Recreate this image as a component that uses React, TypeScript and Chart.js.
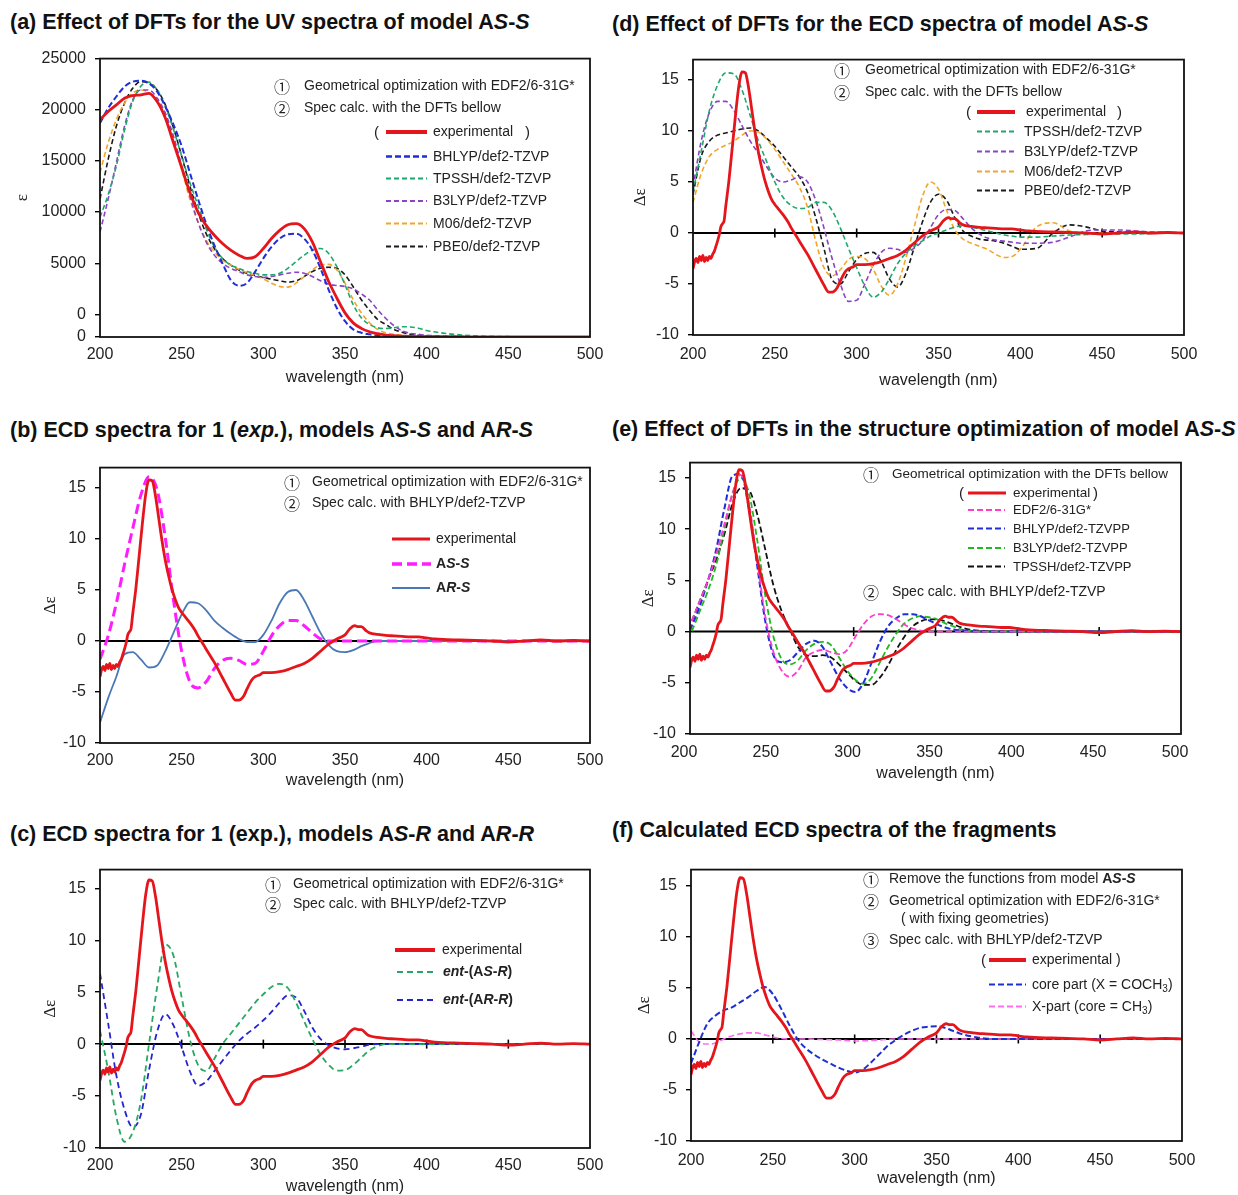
import React, { useEffect, useRef } from "react";
import { Chart, registerables } from "chart.js";
Chart.register(...registerables);

const FONT = "'Liberation Sans', Arial, sans-serif";
const SERIF = "'Liberation Serif', 'DejaVu Serif', serif";
const CJK = "'Noto Sans CJK JP', 'DejaVu Sans', sans-serif";
const TXT = "#222";

// ---------------- DATA ----------------
// (a) UV spectra, wavelength grid (nm)
const UV_WL = [200,205,210,215,220,225,230,235,240,245,250,255,260,265,270,275,280,285,290,295,300,305,310,315,320,325,330,335,340,345,350,355,360,365,370,375,380,385,390,395,400,410,420,430,440,450,475,500];
const UV_EXP = [19030,19835,20480,21130,21380,21450,21610,20800,19190,16770,14350,11930,9990,8700,7730,6920,6280,5790,5470,5630,6440,7410,8210,8760,8860,8380,7080,5150,3210,1600,145,-830,-1370,-1700,-1890,-2020,-2080,-2120,-2150,-2170,-2180,-2190,-2190,-2195,-2195,-2200,-2200,-2200];
const UV_BHLYP = [18700,20160,21290,22260,22740,22840,22580,21770,20320,18540,16450,13860,11280,8860,6760,4990,3370,2800,3050,4180,5470,6600,7410,7830,7890,7410,6280,4500,2400,620,-670,-1470,-1790,-1950,-2080,-2130,-2160,-2175,-2185,-2190,-2195,-2200,-2200,-2200,-2200,-2200,-2200,-2200];
const UV_TPSSH = [9500,11700,14500,18000,20800,22300,22700,21930,20320,18060,15480,12900,10640,8380,6600,5470,4820,4500,4180,4020,3860,3860,4020,4500,5150,5790,6280,6440,5950,4660,2890,950,-340,-990,-1310,-1380,-1310,-1210,-1230,-1350,-1570,-1830,-2000,-2100,-2150,-2180,-2200,-2200];
const UV_B3LYP = [8050,11280,14830,18380,20960,21930,21930,21120,19670,17410,14510,11600,9020,7080,5790,4990,4500,4180,3860,3700,3600,3700,3860,4020,4120,4020,3700,3280,2950,2820,2730,2500,2000,1400,450,-400,-1100,-1600,-1850,-1950,-2050,-2120,-2170,-2190,-2200,-2200,-2200,-2200];
const UV_M06 = [13860,16770,19030,20640,21610,21930,21680,20800,19350,17090,14190,11280,9020,7250,6120,5310,4820,4400,4080,3790,3470,3050,2730,2660,3050,3700,4340,4820,4890,4340,3050,1440,150,-820,-1470,-1800,-1950,-2050,-2120,-2160,-2180,-2200,-2200,-2200,-2200,-2200,-2200,-2200];
const UV_PBE0 = [11280,15150,18380,20640,22100,22740,22580,21930,20480,18220,15480,12570,9990,7890,6440,5470,4820,4340,4020,3790,3600,3440,3280,3150,3280,3700,4180,4500,4600,4500,3860,2700,1430,400,-500,-990,-1470,-1750,-1950,-2050,-2120,-2190,-2200,-2200,-2200,-2200,-2200,-2200];
const UV_Y_TICKS = [-2212, 0, 5000, 10000, 15000, 20000, 25000];

// experimental ECD spectrum (same measurement in panels b-f)
const EXP_WL = [200,201,202,203,204,205,206,207,208,209,210,211,212,213,214,215,216,217,218,219,220,222,224,226,228,230,232,234,236,238,240,242,244,246,248,250,252,255,258,260,262,265,270,275,280,283,285,288,290,293,295,298,300,305,310,315,320,325,330,335,340,345,350,353,356,358,360,363,365,370,375,380,385,390,395,400,405,410,420,430,440,450,460,470,480,490,500];
const EXP_ECD = [-3.5,-2.8,-2.5,-2.9,-2.3,-2.7,-2.2,-2.8,-2.4,-2.7,-2.3,-2.5,-2.1,-1.8,-1.3,-0.8,-0.2,0.6,0.9,1.2,2.6,5.2,8.4,11.6,14.4,15.8,15.7,14.2,12.0,9.8,7.9,6.4,5.1,4.1,3.3,2.8,2.4,1.8,1.1,0.5,0.0,-0.8,-2.1,-3.6,-5.1,-5.8,-5.8,-5.4,-4.7,-3.8,-3.5,-3.3,-3.1,-3.1,-3.0,-2.8,-2.5,-2.2,-1.7,-1.0,-0.3,0.2,0.6,1.2,1.5,1.4,1.4,1.0,0.8,0.65,0.55,0.5,0.45,0.4,0.4,0.3,0.2,0.15,0.1,0.05,0.0,-0.1,0.0,0.1,0.0,0.05,0.0];

// calculated ECD grid (nm)
const ECD_WL = [200,205,210,215,220,225,230,235,240,245,250,255,260,265,270,275,280,285,290,295,300,305,310,315,320,325,330,335,340,345,350,355,360,365,370,375,380,385,390,395,400,410,420,430,440,450,460,470,480,490,500];
// (d)
const D_TPSSH = [4.0,8.0,12.0,14.5,15.7,15.6,14.0,11.5,9.0,7.0,5.0,3.5,2.7,2.4,2.5,3.0,3.0,2.2,0.5,-1.5,-3.4,-5.2,-6.3,-5.8,-4.5,-3.0,-2.0,-1.3,-0.8,-0.3,0.0,0.3,0.6,0.7,0.6,0.4,0.2,0.0,-0.2,-0.3,-0.4,-0.4,-0.3,-0.2,-0.15,-0.1,-0.1,-0.1,-0.05,0,0];
const D_B3LYP = [4.5,9.0,11.8,12.9,12.9,12.0,10.5,9.0,7.8,6.5,5.4,5.0,5.2,5.5,5.0,3.2,0.5,-2.5,-5.0,-6.7,-6.6,-5.0,-3.2,-1.9,-1.5,-1.6,-1.9,-1.5,-0.8,0.5,1.8,2.3,2.2,1.4,0.5,-0.1,-0.5,-0.7,-0.8,-0.9,-1.0,-1.0,-0.9,-0.4,0.2,0.3,0.3,0.2,0.1,0.05,0];
const D_M06 = [3.0,5.8,7.5,8.2,8.6,9.0,9.6,10.0,9.9,9.2,8.2,7.0,5.8,4.5,2.5,-0.8,-3.4,-4.2,-3.6,-2.6,-2.3,-2.5,-3.5,-5.2,-6.1,-5.0,-2.5,0.5,3.5,5.0,4.3,2.2,0.3,-0.6,-1.0,-1.3,-1.6,-2.1,-2.4,-2.3,-1.6,0.6,1.0,0.2,0.0,0,0,0,0,0,0];
const D_PBE0 = [3.8,7.5,9.0,9.6,9.8,10.0,10.2,10.3,10.0,9.3,8.5,7.5,6.5,5.5,4.0,1.5,-1.5,-4.6,-5.0,-3.8,-2.6,-2.0,-1.9,-2.8,-4.5,-5.3,-4.0,-1.5,1.0,3.0,3.8,3.2,1.5,0.2,-0.3,-0.6,-0.7,-0.8,-1.0,-1.3,-1.6,-1.5,0.0,0.8,0.6,0.2,0.1,0.05,0,0,0];
// (b)
const B_ASS = [-1.8,0.5,3.7,7.5,11.0,14.3,16.1,14.8,10.1,4.0,-1.0,-4.0,-4.6,-4.0,-2.7,-1.9,-1.7,-1.9,-2.3,-2.2,-1.0,0.5,1.5,2.0,2.0,1.5,0.8,0.2,0.0,0.0,0,0,0,0,0,0,0,0,0,0,0,0,0,0,0,0,0,0,0,0,0];
const B_ARS = [-8.0,-5.6,-3.5,-1.3,-1.1,-1.8,-2.6,-2.4,-1.0,0.8,2.6,3.8,3.7,3.0,2.0,1.3,0.7,0.2,-0.1,-0.1,0.6,2.0,3.7,4.8,5.0,4.0,2.4,0.8,-0.4,-1.0,-1.1,-0.9,-0.5,-0.2,0,0,0,0,0,0,0,0,0,0,0,0,0,0,0,0,0];
// (c)
const C_ASR = [1.3,-2.5,-7.0,-9.4,-8.5,-5.5,0.0,5.5,9.6,8.5,4.5,0.5,-2.0,-2.6,-1.4,0.0,1.0,2.0,3.0,4.0,4.8,5.5,5.8,5.4,4.0,2.2,0.5,-1.0,-2.0,-2.55,-2.5,-2.0,-1.3,-0.6,-0.2,0,0,0,0,0,0,0,0,0,0,0,0,0,0,0,0];
const C_ARR = [6.8,2.0,-3.0,-6.3,-8.0,-6.8,-2.5,1.2,2.9,1.8,-0.3,-2.6,-4.0,-3.6,-2.6,-1.6,-0.6,0.3,1.0,1.6,2.3,3.1,4.0,4.7,4.5,3.2,1.6,0.5,-0.1,-0.4,-0.5,-0.4,-0.25,-0.05,0,0,0,0,0,0,0,0,0,0,0,0,0,0,0,0,0];
// (f)
const F_CORE = [-2.4,-0.3,1.5,2.3,2.8,3.1,3.6,4.1,4.7,5.1,4.4,3.0,1.4,0.0,-0.9,-1.5,-2.0,-2.4,-2.8,-3.1,-3.3,-3.0,-2.3,-1.5,-0.7,-0.1,0.4,0.8,1.1,1.2,1.25,1.1,0.8,0.5,0.3,0.15,0.05,0,0,0,0,0,0,0,0,0,0,0,0,0,0];
const F_XPART = [0.8,-0.3,-0.5,-0.4,0.0,0.3,0.5,0.6,0.6,0.4,0.2,0.05,0,0,0,-0.03,-0.05,-0.08,-0.1,-0.15,-0.2,-0.18,-0.15,-0.1,-0.05,0,0,0,0,0,0,0,0,0,0,0,0,0,0,0,0,0,0,0,0,0,0,0,0,0,0];
// (e) grid (nm)
const E_WL = [196,201,206,211,216,221,226,231,236,241,246,251,256,261,266,271,276,281,286,291,296,301,306,311,316,321,326,331,336,341,346,351,356,361,366,371,376,381,386,391,396,446,496];
const E_EDF2 = [-1.5,1.0,3.0,5.0,7.5,10.5,13.5,15.3,12.5,7.0,1.5,-2.0,-3.8,-4.4,-3.8,-2.5,-2.0,-1.8,-2.0,-2.2,-1.8,-0.5,0.7,1.5,1.7,1.6,1.2,0.7,0.3,0.1,0,0,0,0,0,0,0,0,0,0,0,0,0];
const E_BHLYP = [-1.5,0.5,2.5,5.0,8.0,12.0,15.2,15.4,12.0,6.5,1.0,-2.3,-3.0,-2.8,-2.0,-1.2,-0.9,-1.5,-3.0,-4.5,-5.5,-5.9,-5.0,-3.0,-1.0,0.5,1.3,1.7,1.7,1.5,1.1,0.7,0.4,0.2,0.1,0.05,0,0,0,0,0,0,0];
const E_B3LYP = [-1.5,0.0,2.0,4.0,6.5,10.0,13.5,15.0,13.5,9.0,3.5,-0.5,-2.7,-3.2,-2.8,-1.8,-1.2,-1.0,-1.3,-2.5,-3.8,-4.7,-5.1,-4.5,-3.0,-1.5,-0.2,0.8,1.3,1.5,1.4,1.2,0.8,0.5,0.2,0.1,0,0,0,0,0,0,0];
const E_TPSSH = [-0.5,1.0,3.0,5.0,7.0,9.5,12.5,14.0,13.8,11.5,8.0,4.5,2.0,0.2,-1.5,-2.3,-2.4,-2.3,-2.5,-3.2,-4.0,-4.8,-5.2,-5.2,-4.5,-3.3,-1.8,-0.5,0.5,1.0,1.2,1.2,1.0,0.7,0.4,0.2,0.1,0.05,0,0,0,0,0];

const ECD_Y_TICKS = [-10, -5, 0, 5, 10, 15];
const ZERO_MARKS = [250, 300, 350, 400, 450];

// ---------------- STYLES ----------------
type Sty = { color: string; width: number; dash: number[] };
const S_EXP: Sty = { color: "#e5151c", width: 2.8, dash: [] };
const S_BHLYP: Sty = { color: "#1f2ed6", width: 2, dash: [6, 3] };
const S_TPSSH_G: Sty = { color: "#1fa86c", width: 1.6, dash: [5, 3] };
const S_B3LYP_P: Sty = { color: "#8a44c4", width: 1.6, dash: [5, 3] };
const S_M06: Sty = { color: "#f2a52a", width: 1.6, dash: [5, 3] };
const S_PBE0: Sty = { color: "#1a1a1a", width: 1.6, dash: [5, 3] };
const S_ASS: Sty = { color: "#ff1cff", width: 3, dash: [10, 5] };
const S_ARS: Sty = { color: "#4a78b6", width: 1.8, dash: [] };
const S_ASR: Sty = { color: "#27a862", width: 1.8, dash: [6, 4] };
const S_ARR: Sty = { color: "#2424d0", width: 1.8, dash: [6, 4] };
const S_EDF2: Sty = { color: "#ff3ccc", width: 1.8, dash: [6, 3] };
const S_B3LYP_E: Sty = { color: "#22b822", width: 1.8, dash: [6, 3] };
const S_TPSSH_E: Sty = { color: "#111111", width: 1.8, dash: [6, 3] };
const S_CORE: Sty = { color: "#1e2fd0", width: 2, dash: [6, 3] };
const S_XPART: Sty = { color: "#ff6ef0", width: 1.6, dash: [6, 3] };

type Line = { wl: number[]; y: number[]; s: Sty };
type PanelCfg = {
  l: number; r: number; t: number; b: number;
  yMin: number; yMax: number; yTicks: number[];
  yLabel: (v: number) => string;
  yTitle: string; yTitleSize: number; yw: number;
  xh: number; xpad: number; xOff: number;
  zero: boolean; marks: number[];
  lines: Line[];
};

const PT = 14, PR = 24;

function Panel({ cfg }: { cfg: PanelCfg }) {
  const ref = useRef<HTMLCanvasElement>(null);
  const left = cfg.l - cfg.yw;
  const top = cfg.t - PT;
  const w = cfg.r - cfg.l + cfg.yw + PR;
  const h = cfg.b - cfg.t + PT + cfg.xh;
  useEffect(() => {
    const deco = {
      id: "deco",
      beforeDatasetsDraw(chart: any) {
        if (!cfg.zero) return;
        const { ctx, chartArea: a, scales } = chart;
        const y0 = scales.y.getPixelForValue(0);
        ctx.save();
        ctx.strokeStyle = "#000";
        ctx.lineWidth = 2;
        ctx.beginPath();
        ctx.moveTo(a.left, y0);
        ctx.lineTo(a.right, y0);
        ctx.stroke();
        ctx.lineWidth = 1.6;
        for (const v of cfg.marks) {
          const x = scales.x.getPixelForValue(v);
          ctx.beginPath();
          ctx.moveTo(x, y0 - 4.5);
          ctx.lineTo(x, y0 + 4.5);
          ctx.stroke();
        }
        ctx.restore();
      },
      afterDraw(chart: any) {
        const { ctx, chartArea: a } = chart;
        ctx.save();
        ctx.strokeStyle = "#111";
        ctx.lineWidth = 1.8;
        ctx.strokeRect(a.left, a.top, a.right - a.left, a.bottom - a.top);
        ctx.restore();
      },
    };
    const chart = new Chart(ref.current as HTMLCanvasElement, {
      type: "line",
      data: {
        datasets: cfg.lines.map((ln) => ({
          data: ln.wl.map((x, i) => ({ x, y: ln.y[i] })),
          borderColor: ln.s.color,
          borderWidth: ln.s.width,
          borderDash: ln.s.dash,
          pointRadius: 0,
          fill: false,
          cubicInterpolationMode: "monotone" as const,
        })),
      },
      options: {
        responsive: false,
        maintainAspectRatio: false,
        animation: false,
        parsing: false,
        layout: { padding: { top: PT, right: PR, left: 0, bottom: 0 } },
        plugins: { legend: { display: false }, tooltip: { enabled: false } },
        scales: {
          x: {
            type: "linear",
            min: 200,
            max: 500,
            ticks: {
              stepSize: 50,
              color: "#222",
              font: { family: FONT, size: 16 },
              padding: cfg.xpad,
              labelOffset: cfg.xOff,
              maxRotation: 0,
            },
            grid: { display: true, drawOnChartArea: false, drawTicks: false },
            border: { display: false },
            title: {
              display: true,
              text: "wavelength (nm)",
              color: "#222",
              font: { family: FONT, size: 16 },
              padding: { top: 0, bottom: 0 },
            },
            afterFit: (s: any) => {
              s.height = cfg.xh;
            },
          },
          y: {
            type: "linear",
            min: cfg.yMin,
            max: cfg.yMax,
            afterBuildTicks: (s: any) => {
              s.ticks = cfg.yTicks.map((v) => ({ value: v }));
            },
            ticks: {
              color: "#222",
              font: { family: FONT, size: 16 },
              padding: 9,
              callback: (v: any) => cfg.yLabel(Number(v)),
            },
            grid: { display: true, drawOnChartArea: false, drawTicks: true, tickLength: 5, color: "#000", lineWidth: 1.4 },
            border: { display: false },
            title: {
              display: true,
              text: cfg.yTitle,
              color: "#222",
              font: { family: SERIF, size: cfg.yTitleSize },
              padding: { top: 0, bottom: 0 },
            },
            afterFit: (s: any) => {
              s.width = cfg.yw;
            },
          },
        },
      },
      plugins: [deco],
    } as any);
    return () => chart.destroy();
  }, []);
  return (
    <canvas
      ref={ref}
      width={w}
      height={h}
      style={{ position: "absolute", left, top, width: w, height: h }}
    />
  );
}

const ecdLabel = (v: number) => String(v);
const uvLabel = (v: number) => (v < 0 ? "0" : String(v));

const PANEL_A: PanelCfg = {
  l: 100, r: 590, t: 54, b: 337, yMin: -2212, yMax: 25000, yTicks: UV_Y_TICKS, yLabel: uvLabel,
  yTitle: "ε", yTitleSize: 17, yw: 88, xh: 50, xpad: 8, xOff: 0, zero: false, marks: [],
  lines: [
    { wl: UV_WL, y: UV_EXP, s: S_EXP },
    { wl: UV_WL, y: UV_BHLYP, s: S_BHLYP },
    { wl: UV_WL, y: UV_TPSSH, s: S_TPSSH_G },
    { wl: UV_WL, y: UV_B3LYP, s: S_B3LYP_P },
    { wl: UV_WL, y: UV_M06, s: S_M06 },
    { wl: UV_WL, y: UV_PBE0, s: S_PBE0 },
  ],
};
const PANEL_B: PanelCfg = {
  l: 100, r: 590, t: 463, b: 743, yMin: -10, yMax: 17, yTicks: ECD_Y_TICKS, yLabel: ecdLabel,
  yTitle: "Δε", yTitleSize: 17, yw: 60, xh: 47, xpad: 8, xOff: 0, zero: true, marks: [],
  lines: [
    { wl: EXP_WL, y: EXP_ECD, s: S_EXP },
    { wl: ECD_WL, y: B_ASS, s: S_ASS },
    { wl: ECD_WL, y: B_ARS, s: S_ARS },
  ],
};
const PANEL_C: PanelCfg = {
  l: 100, r: 590, t: 865, b: 1148, yMin: -10, yMax: 16.8, yTicks: ECD_Y_TICKS, yLabel: ecdLabel,
  yTitle: "Δε", yTitleSize: 17, yw: 60, xh: 48, xpad: 8, xOff: 0, zero: true, marks: ZERO_MARKS,
  lines: [
    { wl: EXP_WL, y: EXP_ECD, s: S_EXP },
    { wl: ECD_WL, y: C_ASR, s: S_ASR },
    { wl: ECD_WL, y: C_ARR, s: S_ARR },
  ],
};
const PANEL_D: PanelCfg = {
  l: 693, r: 1184, t: 55, b: 335, yMin: -10, yMax: 17, yTicks: ECD_Y_TICKS, yLabel: ecdLabel,
  yTitle: "Δε", yTitleSize: 17, yw: 63, xh: 55, xpad: 10, xOff: 0, zero: true, marks: ZERO_MARKS,
  lines: [
    { wl: EXP_WL, y: EXP_ECD, s: S_EXP },
    { wl: ECD_WL, y: D_TPSSH, s: S_TPSSH_G },
    { wl: ECD_WL, y: D_B3LYP, s: S_B3LYP_P },
    { wl: ECD_WL, y: D_M06, s: S_M06 },
    { wl: ECD_WL, y: D_PBE0, s: S_PBE0 },
  ],
};
const PANEL_E: PanelCfg = {
  l: 690, r: 1181, t: 458, b: 734, yMin: -10, yMax: 16.5, yTicks: ECD_Y_TICKS, yLabel: ecdLabel,
  yTitle: "Δε", yTitleSize: 17, yw: 52, xh: 49, xpad: 9, xOff: -6, zero: true, marks: [300, 350, 400, 450],
  lines: [
    { wl: EXP_WL, y: EXP_ECD, s: S_EXP },
    { wl: E_WL, y: E_EDF2, s: S_EDF2 },
    { wl: E_WL, y: E_BHLYP, s: S_BHLYP },
    { wl: E_WL, y: E_B3LYP, s: S_B3LYP_E },
    { wl: E_WL, y: E_TPSSH, s: S_TPSSH_E },
  ],
};
const PANEL_F: PanelCfg = {
  l: 691, r: 1182, t: 865, b: 1141, yMin: -10, yMax: 16.6, yTicks: ECD_Y_TICKS, yLabel: ecdLabel,
  yTitle: "Δε", yTitleSize: 17, yw: 57, xh: 47, xpad: 10, xOff: 0, zero: true, marks: ZERO_MARKS,
  lines: [
    { wl: EXP_WL, y: EXP_ECD, s: S_EXP },
    { wl: ECD_WL, y: F_CORE, s: S_CORE },
    { wl: ECD_WL, y: F_XPART, s: S_XPART },
  ],
};

// ---------------- OVERLAY TEXT ----------------
function T({ x, y, size = 14, bold = false, children }: any) {
  return (
    <div
      style={{
        position: "absolute", left: x, top: y, transform: "translateY(-50%)",
        fontFamily: FONT, fontSize: size, color: TXT, whiteSpace: "nowrap",
        lineHeight: 1.1, fontWeight: bold ? 700 : 400,
      }}
    >
      {children}
    </div>
  );
}
function C({ x, y, n }: any) {
  return (
    <div
      style={{
        position: "absolute", left: x, top: y, transform: "translate(-50%,-50%)",
        fontFamily: CJK, fontSize: 16, color: TXT, lineHeight: 1,
      }}
    >
      {n}
    </div>
  );
}
function Title({ x, y, children }: any) {
  return (
    <div
      style={{
        position: "absolute", left: x, top: y, transform: "translateY(-50%)",
        fontFamily: FONT, fontSize: 21.5, fontWeight: 700, color: "#111",
        whiteSpace: "nowrap", lineHeight: 1.1,
      }}
    >
      {children}
    </div>
  );
}
function Sample({ x1, x2, y, s, w }: { x1: number; x2: number; y: number; s: Sty; w?: number }) {
  return (
    <line x1={x1} x2={x2} y1={y} y2={y} stroke={s.color} strokeWidth={w ?? s.width + 0.4}
      strokeDasharray={s.dash.length ? s.dash.join(",") : undefined} />
  );
}
const sub = { fontSize: 10, verticalAlign: "-3px" };

export default function App() {
  return (
    <div style={{ position: "absolute", left: 0, top: 0, width: 1238, height: 1195, background: "#fff", overflow: "hidden" }}>
      <Panel cfg={PANEL_A} />
      <Panel cfg={PANEL_B} />
      <Panel cfg={PANEL_C} />
      <Panel cfg={PANEL_D} />
      <Panel cfg={PANEL_E} />
      <Panel cfg={PANEL_F} />

      {/* titles */}
      <Title x={10} y={23}>(a) Effect of DFTs for the UV spectra of model A<i>S</i>-<i>S</i></Title>
      <Title x={10} y={431}>(b) ECD spectra for 1 (<i>exp.</i>), models A<i>S</i>-<i>S</i> and A<i>R</i>-<i>S</i></Title>
      <Title x={10} y={835}>(c) ECD spectra for 1 (exp.), models A<i>S</i>-<i>R</i> and A<i>R</i>-<i>R</i></Title>
      <Title x={612} y={25}>(d) Effect of DFTs for the ECD spectra of model A<i>S</i>-<i>S</i></Title>
      <Title x={612} y={430}>(e) Effect of DFTs in the structure optimization of model A<i>S</i>-<i>S</i></Title>
      <Title x={612} y={831}>(f) Calculated ECD spectra of the fragments</Title>

      {/* (a) */}
      <C x={282} y={86} n="①" />
      <T x={304} y={86}>Geometrical optimization with EDF2/6-31G*</T>
      <C x={282} y={107.5} n="②" />
      <T x={304} y={107.5}>Spec calc. with the DFTs bellow</T>
      <T x={374} y={132} size={15}>(</T>
      <T x={433} y={132}>experimental</T>
      <T x={525} y={132} size={15}>)</T>
      <T x={433} y={156.5}>BHLYP/def2-TZVP</T>
      <T x={433} y={178.5}>TPSSH/def2-TZVP</T>
      <T x={433} y={201}>B3LYP/def2-TZVP</T>
      <T x={433} y={223.5}>M06/def2-TZVP</T>
      <T x={433} y={246.5}>PBE0/def2-TZVP</T>

      {/* (d) */}
      <C x={842} y={70} n="①" />
      <T x={865} y={70}>Geometrical optimization with EDF2/6-31G*</T>
      <C x={842} y={91.5} n="②" />
      <T x={865} y={91.5}>Spec calc. with the DFTs bellow</T>
      <T x={966} y={112} size={15}>(</T>
      <T x={1026} y={112}>experimental</T>
      <T x={1117} y={112} size={15}>)</T>
      <T x={1024} y={131.5}>TPSSH/def2-TZVP</T>
      <T x={1024} y={151.5}>B3LYP/def2-TZVP</T>
      <T x={1024} y={171.5}>M06/def2-TZVP</T>
      <T x={1024} y={190.5}>PBE0/def2-TZVP</T>

      {/* (b) */}
      <C x={292} y={482} n="①" />
      <T x={312} y={482}>Geometrical optimization with EDF2/6-31G*</T>
      <C x={292} y={503} n="②" />
      <T x={312} y={503}>Spec calc. with BHLYP/def2-TZVP</T>
      <T x={436} y={539}>experimental</T>
      <T x={436} y={564} bold>A<i>S</i>-<i>S</i></T>
      <T x={436} y={588} bold>A<i>R</i>-<i>S</i></T>

      {/* (c) */}
      <C x={273} y={884} n="①" />
      <T x={293} y={884}>Geometrical optimization with EDF2/6-31G*</T>
      <C x={273} y={904} n="②" />
      <T x={293} y={904}>Spec calc. with BHLYP/def2-TZVP</T>
      <T x={442} y={950}>experimental</T>
      <T x={443} y={972} bold><i>ent</i>-(A<i>S</i>-<i>R</i>)</T>
      <T x={443} y={1000} bold><i>ent</i>-(A<i>R</i>-<i>R</i>)</T>

      {/* (e) */}
      <C x={871} y={474} n="①" />
      <T x={892} y={474} size={13.5}>Geometrical optimization with the DFTs bellow</T>
      <T x={959} y={493} size={15}>(</T>
      <T x={1013} y={493} size={13.5}>experimental</T>
      <T x={1093} y={493} size={15}>)</T>
      <T x={1013} y={510} size={13}>EDF2/6-31G*</T>
      <T x={1013} y={528.5} size={13}>BHLYP/def2-TZVPP</T>
      <T x={1013} y={548} size={13}>B3LYP/def2-TZVPP</T>
      <T x={1013} y={566.5} size={13}>TPSSH/def2-TZVPP</T>
      <C x={871} y={592} n="②" />
      <T x={892} y={592}>Spec calc. with BHLYP/def2-TZVP</T>

      {/* (f) */}
      <C x={871} y={879} n="①" />
      <T x={889} y={879}>Remove the functions from model <b>A<i>S</i>-<i>S</i></b></T>
      <C x={871} y={901} n="②" />
      <T x={889} y={901}>Geometrical optimization with EDF2/6-31G*</T>
      <T x={901} y={918.5}>( with fixing geometries)</T>
      <C x={871} y={940} n="③" />
      <T x={889} y={940}>Spec calc. with BHLYP/def2-TZVP</T>
      <T x={981} y={960} size={15}>(</T>
      <T x={1032} y={960}>experimental )</T>
      <T x={1032} y={984.5}>core part (X = COCH<span style={sub}>3</span>)</T>
      <T x={1032} y={1006.5}>X-part (core = CH<span style={sub}>3</span>)</T>

      {/* legend line samples */}
      <svg width={1238} height={1195} style={{ position: "absolute", left: 0, top: 0, pointerEvents: "none" }}>
        <Sample x1={386} x2={427} y={132} s={S_EXP} w={4} />
        <Sample x1={386} x2={427} y={156.5} s={S_BHLYP} />
        <Sample x1={386} x2={427} y={178.5} s={S_TPSSH_G} />
        <Sample x1={386} x2={427} y={201} s={S_B3LYP_P} />
        <Sample x1={386} x2={427} y={223.5} s={S_M06} />
        <Sample x1={386} x2={427} y={246.5} s={S_PBE0} />

        <Sample x1={977} x2={1015} y={112} s={S_EXP} w={4} />
        <Sample x1={977} x2={1015} y={131.5} s={S_TPSSH_G} />
        <Sample x1={977} x2={1015} y={151.5} s={S_B3LYP_P} />
        <Sample x1={977} x2={1015} y={171.5} s={S_M06} />
        <Sample x1={977} x2={1015} y={190.5} s={S_PBE0} />

        <Sample x1={392} x2={430} y={539} s={S_EXP} w={3} />
        <Sample x1={392} x2={431} y={564} s={S_ASS} w={3.5} />
        <Sample x1={392} x2={430} y={588} s={S_ARS} w={2} />

        <Sample x1={395} x2={435} y={950} s={S_EXP} w={4} />
        <Sample x1={397} x2={435} y={972} s={S_ASR} w={2} />
        <Sample x1={397} x2={435} y={1000} s={S_ARR} w={2} />

        <Sample x1={968} x2={1006} y={493} s={S_EXP} w={3} />
        <Sample x1={968} x2={1005} y={510} s={S_EDF2} w={2.2} />
        <Sample x1={968} x2={1005} y={528.5} s={S_BHLYP} w={2.2} />
        <Sample x1={968} x2={1005} y={548} s={S_B3LYP_E} w={2.2} />
        <Sample x1={968} x2={1005} y={566.5} s={S_TPSSH_E} w={2.2} />

        <Sample x1={989} x2={1026} y={960} s={S_EXP} w={4} />
        <Sample x1={989} x2={1026} y={984.5} s={S_CORE} w={2.2} />
        <Sample x1={989} x2={1026} y={1006.5} s={S_XPART} w={2} />
      </svg>
    </div>
  );
}
